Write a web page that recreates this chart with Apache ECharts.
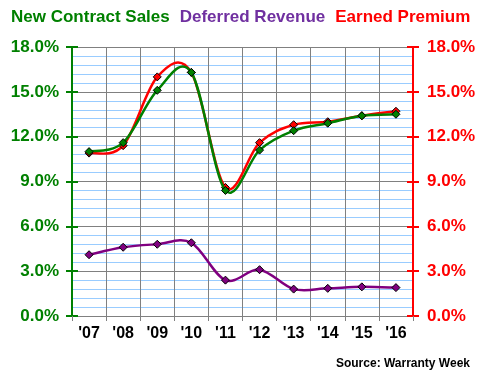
<!DOCTYPE html>
<html>
<head>
<meta charset="utf-8">
<script src="https://cdn.jsdelivr.net/npm/echarts@6/dist/echarts.min.js"></script>
<style>
html,body{margin:0;padding:0;background:#fff;}
#chart{width:480px;height:380px;}
</style>
</head>
<body>
<div id="chart"></div>
<script>
const categories = ["'07","'08","'09","'10","'11","'12","'13","'14","'15","'16"];
const newContractSales = [11.0, 11.6, 15.1, 16.3, 8.4, 11.1, 12.4, 12.9, 13.4, 13.5];
const deferredRevenue  = [4.1, 4.6, 4.8, 4.9, 2.4, 3.1, 1.8, 1.85, 1.95, 1.9];
const earnedPremium    = [10.9, 11.4, 16.0, 16.3, 8.6, 11.6, 12.8, 13.0, 13.4, 13.7];
const seriesNames = ['New Contract Sales', 'Deferred Revenue', 'Earned Premium'];
const yTicks = [0, 3, 6, 9, 12, 15, 18];

const GREEN = '#008000', PURPLE = '#800080', RED = '#ff0000';
const FONT = 'Liberation Sans, Arial, sans-serif';

const chart = echarts.init(document.getElementById('chart'), null, {renderer: 'canvas'});

function yAxisBase(pos, color, showLabel, inside, split) {
  return {
    type: 'value', position: pos,
    min: yTicks[0], max: yTicks[yTicks.length - 1], interval: yTicks[1] - yTicks[0],
    axisLine: {show: true, lineStyle: {color: color, width: 2}},
    axisTick: {show: true, inside: inside, length: 6, lineStyle: {color: color, width: 2}},
    axisLabel: {show: showLabel, formatter: v => v.toFixed(1) + '%', color: color,
      fontSize: 17, fontWeight: 'bold', fontFamily: FONT, margin: pos === 'left' ? 13 : 14},
    splitLine: {show: split, lineStyle: {color: '#808080', width: 1}},
    minorTick: {show: false, splitNumber: 5},
    minorSplitLine: {show: split, lineStyle: {color: '#99ccff', width: 1}}
  };
}

// Smooth curve (Catmull-Rom style, as spreadsheet "smoothed line") drawn through axis coords
function curveSeries(arr, color, yIdx, z) {
  const n = arr.length;
  return {
    type: 'custom', yAxisIndex: yIdx, z: z, silent: true,
    data: arr.map((v, i) => [i, v]),
    encode: {x: 0, y: 1},
    renderItem: function (params, api) {
      const i = params.dataIndex;
      if (i >= n - 1) return null;
      const P = k => { k = Math.max(0, Math.min(n - 1, k)); return api.coord([k, arr[k]]); };
      const p0 = P(i - 1), p1 = P(i), p2 = P(i + 1), p3 = P(i + 2);
      return {
        type: 'bezierCurve',
        shape: {
          x1: p1[0], y1: p1[1], x2: p2[0], y2: p2[1],
          cpx1: p1[0] + (p2[0] - p0[0]) / 6, cpy1: p1[1] + (p2[1] - p0[1]) / 6,
          cpx2: p2[0] - (p3[0] - p1[0]) / 6, cpy2: p2[1] - (p3[1] - p1[1]) / 6
        },
        style: {stroke: color, lineWidth: 2.5, fill: null}
      };
    }
  };
}

function markerSeries(name, data, color, yIdx, z) {
  return {
    name: name, type: 'line', data: data, yAxisIndex: yIdx, z: z,
    symbol: 'diamond', symbolSize: 8,
    lineStyle: {width: 0, opacity: 0},
    itemStyle: {color: color, borderColor: '#000', borderWidth: 1},
    emphasis: {disabled: true}
  };
}

chart.setOption({
  animation: false,
  backgroundColor: '#fff',
  legend: {
    top: 9, left: 5, width: 475, padding: 0,
    itemWidth: 0, itemHeight: 0, itemGap: 4, icon: 'rect',
    selectedMode: false,
    textStyle: {fontSize: 17, fontWeight: 'bold', fontFamily: FONT},
    data: [
      {name: seriesNames[0], textStyle: {color: GREEN}},
      {name: seriesNames[1], textStyle: {color: '#7030a0'}},
      {name: seriesNames[2], textStyle: {color: RED}}
    ]
  },
  title: {
    text: 'Source: Warranty Week', right: 5, top: 353,
    textStyle: {fontSize: 12, fontWeight: 'bold', fontFamily: FONT, color: '#000'}
  },
  grid: {left: 72, right: 67, top: 47, bottom: 64, containLabel: false},
  xAxis: {
    type: 'category', data: categories, boundaryGap: true,
    axisLine: {show: true, lineStyle: {color: '#808080', width: 1}},
    axisTick: {show: true, length: 5, lineStyle: {color: '#808080'}},
    axisLabel: {color: '#000', fontSize: 16, fontWeight: 'bold', fontFamily: FONT, margin: 10},
    splitLine: {show: true, lineStyle: {color: '#808080', width: 1}}
  },
  yAxis: [
    yAxisBase('left', GREEN, true, false, true),
    yAxisBase('right', RED, true, false, false),
    yAxisBase('left', GREEN, false, true, false),
    yAxisBase('right', RED, false, true, false)
  ],
  series: [
    curveSeries(earnedPremium, RED, 1, 2),
    markerSeries(seriesNames[2], earnedPremium, RED, 1, 3),
    curveSeries(newContractSales, GREEN, 0, 4),
    markerSeries(seriesNames[0], newContractSales, GREEN, 0, 5),
    curveSeries(deferredRevenue, PURPLE, 0, 4),
    markerSeries(seriesNames[1], deferredRevenue, PURPLE, 0, 5)
  ]
});
</script>
</body>
</html>
